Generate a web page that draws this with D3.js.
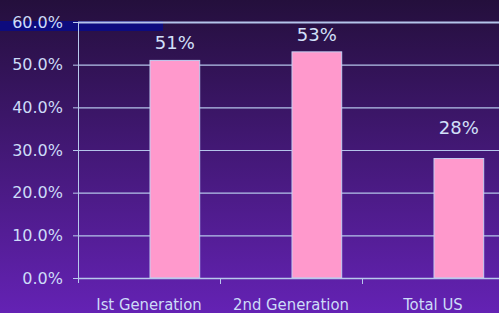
<!DOCTYPE html>
<html>
<head>
<meta charset="utf-8">
<script src="https://cdn.jsdelivr.net/npm/d3@7"></script>
<style>
  html, body { margin: 0; padding: 0; background: #3a1866; }
  svg { display: block; }
  svg text { font-family: "DejaVu Sans", Verdana, sans-serif; }
  .axis path, .axis line { stroke: #b8c8ec; }
  .axis text { fill: #cddcf8; }
</style>
</head>
<body>
<div id="chart"></div>
<script>
  'use strict';

  const categories = ["Ist Generation", "2nd Generation", "Total US"];
  const values = [51, 53, 28];
  const yTicks = [0, 10, 20, 30, 40, 50, 60];

  const size = { width: 499, height: 313 };
  const margin = { top: 22, right: -5, bottom: 35, left: 78 };
  const width = size.width - margin.left - margin.right;
  const height = size.height - margin.top - margin.bottom;

  const svg = d3.select("#chart").append("svg")
    .attr("width", size.width)
    .attr("height", size.height);

  // background gradient, dark at top to violet at bottom
  const grad = svg.append("defs").append("linearGradient")
    .attr("id", "bg").attr("x1", 0).attr("y1", 0).attr("x2", 0).attr("y2", 1);
  grad.append("stop").attr("offset", "0%").attr("stop-color", "#240f3c");
  grad.append("stop").attr("offset", "100%").attr("stop-color", "#6422b4");
  svg.append("rect").attr("width", size.width).attr("height", size.height).attr("fill", "url(#bg)");

  // navy strip behind the top tick label
  svg.append("rect")
    .attr("x", 0).attr("y", margin.top - 1)
    .attr("width", 163).attr("height", 10)
    .attr("fill", "#0d0b7e");

  const x = d3.scaleBand().domain(categories).range([0, width]);
  const y = d3.scaleLinear().domain([0, 60]).range([height, 0]);

  const g = svg.append("g")
    .attr("transform", "translate(" + margin.left + "," + margin.top + ")");

  // horizontal grid
  g.append("g")
    .attr("class", "yGrid")
    .selectAll("line")
    .data(yTicks.slice(1))
    .join("line")
    .attr("x1", 0).attr("x2", width)
    .attr("y1", d => y(d) + 0.5).attr("y2", d => y(d) + 0.5)
    .attr("stroke", "#b4c4ea")
    .attr("stroke-width", d => d === 60 ? 2 : 1.2);

  const barW = x.bandwidth() * 0.35;

  g.selectAll("rect.bar")
    .data(values)
    .join("rect")
    .attr("class", "bar")
    .attr("x", (d, i) => x(categories[i]) + x.bandwidth() / 2 + 1)
    .attr("y", d => y(d))
    .attr("width", barW)
    .attr("height", d => height - y(d))
    .attr("fill", "#ff99cc")
    .attr("stroke", "#c4cdf2")
    .attr("stroke-width", 1);

  g.selectAll("text.val")
    .data(values)
    .join("text")
    .attr("class", "val")
    .attr("text-anchor", "middle")
    .attr("x", (d, i) => x(categories[i]) + x.bandwidth() / 2 + 1 + barW / 2)
    .attr("y", d => y(d) - (d < 40 ? 25 : 11))
    .attr("fill", "#d2e0fa")
    .style("font-size", "18px")
    .text(d => d + "%");

  const yAxis = d3.axisLeft(y)
    .tickValues(yTicks)
    .tickSize(5)
    .tickPadding(10)
    .tickFormat(d => d.toFixed(1) + "%");

  g.append("g")
    .attr("class", "y axis")
    .call(yAxis)
    .call(s => s.select(".domain").attr("d", "M0.5," + (height + 5) + "V0"))
    .call(s => s.selectAll("text")
      .style("font-family", "'DejaVu Sans', Verdana, sans-serif")
      .style("font-size", "16px"));

  const xAxis = d3.axisBottom(x)
    .tickSize(0)
    .tickPadding(20);

  const xg = g.append("g")
    .attr("class", "x axis")
    .attr("transform", "translate(0," + height + ")")
    .call(xAxis)
    .call(s => s.select(".domain").attr("d", "M0,0.5H" + width).attr("stroke-width", 1.5))
    .call(s => s.selectAll("text")
      .style("font-family", "'DejaVu Sans Condensed', 'DejaVu Sans', sans-serif")
      .style("font-size", "16.5px"));

  // separator ticks between categories
  xg.selectAll("line.sep")
    .data(categories.slice(1))
    .join("line")
    .attr("class", "sep")
    .attr("x1", d => x(d) + 0.5).attr("x2", d => x(d) + 0.5)
    .attr("y1", 0).attr("y2", 6)
    .attr("stroke", "#b8c8ec");
</script>
</body>
</html>
